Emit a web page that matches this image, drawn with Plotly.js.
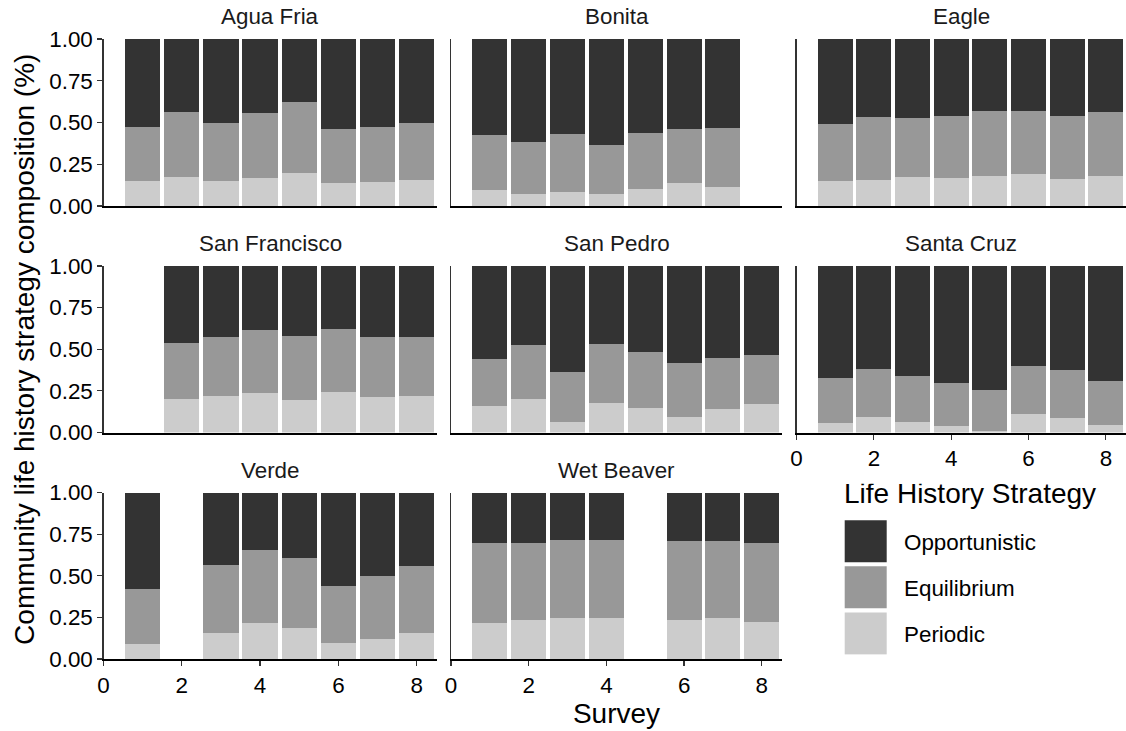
<!DOCTYPE html>
<html>
<head>
<meta charset="utf-8">
<script src="https://cdn.plot.ly/plotly-3.0.1.min.js"></script>
<style>
  html, body { margin: 0; padding: 0; background: #ffffff; }
  #chart { width: 1126px; height: 731px; }
</style>
</head>
<body>
<div id="chart"></div>
<script>
// ---- data ----
const surveys = [1, 2, 3, 4, 5, 6, 7, 8];
const sites = ['Agua Fria', 'Bonita', 'Eagle', 'San Francisco', 'San Pedro', 'Santa Cruz', 'Verde', 'Wet Beaver'];
const strategies = ['Periodic', 'Equilibrium', 'Opportunistic'];
const legendOrder = { Opportunistic: 1, Equilibrium: 2, Periodic: 3 };
const xTickVals = [0, 2, 4, 6, 8];
const yTickVals = [0, 0.25, 0.5, 0.75, 1];

const aguaFriaPeriodic      = [0.150, 0.174, 0.150, 0.168, 0.200, 0.138, 0.142, 0.154];
const aguaFriaEquilibrium   = [0.323, 0.387, 0.347, 0.387, 0.423, 0.321, 0.331, 0.341];
const aguaFriaOpportunistic = [0.527, 0.439, 0.503, 0.445, 0.377, 0.541, 0.527, 0.505];

const bonitaPeriodic      = [0.096, 0.074, 0.084, 0.070, 0.102, 0.138, 0.116, null];
const bonitaEquilibrium   = [0.327, 0.309, 0.345, 0.295, 0.333, 0.325, 0.353, null];
const bonitaOpportunistic = [0.577, 0.617, 0.571, 0.635, 0.565, 0.537, 0.531, null];

const eaglePeriodic      = [0.148, 0.156, 0.174, 0.168, 0.180, 0.192, 0.162, 0.180];
const eagleEquilibrium   = [0.343, 0.375, 0.351, 0.369, 0.387, 0.375, 0.375, 0.381];
const eagleOpportunistic = [0.509, 0.469, 0.475, 0.463, 0.433, 0.433, 0.463, 0.439];

const sanFranciscoPeriodic      = [null, 0.202, 0.220, 0.238, 0.198, 0.244, 0.214, 0.220];
const sanFranciscoEquilibrium   = [null, 0.338, 0.354, 0.376, 0.382, 0.376, 0.360, 0.354];
const sanFranciscoOpportunistic = [null, 0.460, 0.426, 0.386, 0.420, 0.380, 0.426, 0.426];

const sanPedroPeriodic      = [0.158, 0.202, 0.066, 0.176, 0.146, 0.094, 0.140, 0.174];
const sanPedroEquilibrium   = [0.284, 0.326, 0.296, 0.358, 0.336, 0.326, 0.308, 0.292];
const sanPedroOpportunistic = [0.558, 0.472, 0.638, 0.466, 0.518, 0.580, 0.552, 0.534];

const santaCruzPeriodic      = [0.056, 0.094, 0.066, 0.038, 0.008, 0.112, 0.088, 0.048];
const santaCruzEquilibrium   = [0.272, 0.286, 0.274, 0.262, 0.246, 0.290, 0.286, 0.264];
const santaCruzOpportunistic = [0.672, 0.620, 0.660, 0.700, 0.746, 0.598, 0.626, 0.688];

const verdePeriodic      = [0.092, null, 0.156, 0.218, 0.184, 0.098, 0.122, 0.156];
const verdeEquilibrium   = [0.326, null, 0.410, 0.434, 0.422, 0.342, 0.376, 0.404];
const verdeOpportunistic = [0.582, null, 0.434, 0.348, 0.394, 0.560, 0.502, 0.440];

const wetBeaverPeriodic      = [0.218, 0.236, 0.248, 0.248, null, 0.236, 0.248, 0.224];
const wetBeaverEquilibrium   = [0.480, 0.462, 0.468, 0.468, null, 0.474, 0.462, 0.474];
const wetBeaverOpportunistic = [0.302, 0.302, 0.284, 0.284, null, 0.290, 0.290, 0.302];

// table built from the arrays above
const siteValues = [
  [aguaFriaPeriodic, aguaFriaEquilibrium, aguaFriaOpportunistic],
  [bonitaPeriodic, bonitaEquilibrium, bonitaOpportunistic],
  [eaglePeriodic, eagleEquilibrium, eagleOpportunistic],
  [sanFranciscoPeriodic, sanFranciscoEquilibrium, sanFranciscoOpportunistic],
  [sanPedroPeriodic, sanPedroEquilibrium, sanPedroOpportunistic],
  [santaCruzPeriodic, santaCruzEquilibrium, santaCruzOpportunistic],
  [verdePeriodic, verdeEquilibrium, verdeOpportunistic],
  [wetBeaverPeriodic, wetBeaverEquilibrium, wetBeaverOpportunistic]
];

// ---- styling ----
const W = 1126, H = 731;
const fillColors = { Periodic: '#cccccc', Equilibrium: '#989898', Opportunistic: '#333333' };
const FONT = 'Liberation Sans, Arial, sans-serif';
const smallSize = 22.4, bigSize = 28;
const colPx = [[103.5, 437], [451, 782], [796.5, 1126]];
const rowPx = [[39, 206], [266, 432.5], [492.5, 659]];
const fx = p => p / W;
const fy = p => 1 - p / H;

const data = [];
const layout = {
  width: W, height: H,
  margin: { l: 0, r: 0, t: 0, b: 0 },
  paper_bgcolor: '#ffffff', plot_bgcolor: '#ffffff',
  barmode: 'stack',
  font: { family: FONT, color: '#000000', size: smallSize },
  showlegend: true,
  legend: {
    x: fx(842), y: fy(483.7), xanchor: 'left', yanchor: 'top',
    traceorder: 'grouped', tracegroupgap: 14,
    itemwidth: 52,
    font: { family: FONT, size: smallSize, color: '#000000' },
    title: { text: 'Life History Strategy', font: { family: FONT, size: bigSize, color: '#000000' } },
    bgcolor: 'rgba(0,0,0,0)', borderwidth: 0
  },
  annotations: []
};

sites.forEach((site, i) => {
  const col = i % 3, row = Math.floor(i / 3);
  const n = i + 1;
  const xa = 'x' + (n === 1 ? '' : n), ya = 'y' + (n === 1 ? '' : n);
  const showX = (i >= 5);
  const showY = (col === 0);
  strategies.forEach((s, k) => {
    data.push({
      type: 'bar', x: surveys, y: siteValues[i][k], width: 0.9,
      name: s, legendgroup: s, legendrank: legendOrder[s], showlegend: i === 0,
      marker: { color: fillColors[s], line: { width: 0 } },
      xaxis: xa, yaxis: ya, hoverinfo: 'skip'
    });
  });
  layout['xaxis' + (n === 1 ? '' : n)] = {
    domain: [fx(colPx[col][0]), fx(colPx[col][1])],
    anchor: ya, range: [0, 8.52], fixedrange: true,
    showline: true, linecolor: '#000000', linewidth: 2,
    showgrid: false, zeroline: false,
    tickmode: 'array', tickvals: xTickVals,
    ticks: showX ? 'outside' : '', ticklen: 5, tickwidth: 1.2, tickcolor: '#333333',
    showticklabels: showX,
    tickfont: { family: FONT, size: smallSize, color: '#000000' },
    title: (n === 8) ? { text: 'Survey', standoff: 6, font: { family: FONT, size: bigSize, color: '#000000' } } : { text: '' }
  };
  layout['yaxis' + (n === 1 ? '' : n)] = {
    domain: [fy(rowPx[row][1]), fy(rowPx[row][0])],
    anchor: xa, range: [0, 1], fixedrange: true,
    showline: true, linecolor: '#333333', linewidth: 1.2,
    showgrid: false, zeroline: false,
    tickmode: 'array', tickvals: yTickVals, tickformat: '.2f',
    ticks: showY ? 'outside' : '', ticklen: 5, tickwidth: 1.2, tickcolor: '#333333',
    showticklabels: showY,
    tickfont: { family: FONT, size: smallSize, color: '#000000' },
    title: (n === 4) ? { text: 'Community life history strategy composition (%)', standoff: 6, font: { family: FONT, size: bigSize, color: '#000000' } } : { text: '' }
  };
  layout.annotations.push({
    text: site, xref: 'paper', yref: 'paper',
    x: fx((colPx[col][0] + colPx[col][1]) / 2), y: fy(rowPx[row][0] - 22.5),
    xanchor: 'center', yanchor: 'middle', showarrow: false,
    font: { family: FONT, size: smallSize, color: '#1a1a1a' }
  });
});

Plotly.newPlot('chart', data, layout, { staticPlot: true, displayModeBar: false }).then(gd => {
  // larger ggplot-style legend keys
  gd.querySelectorAll('.legend .legendpoints path').forEach(p => {
    p.setAttribute('d', 'M13.7,21H-28.3V-21H13.7Z');
  });
  // a little more room between legend title and keys
  gd.querySelectorAll('.legend .legendtitletext').forEach(t => {
    t.setAttribute('transform', 'translate(0,-16.7)');
  });
});
</script>
</body>
</html>
